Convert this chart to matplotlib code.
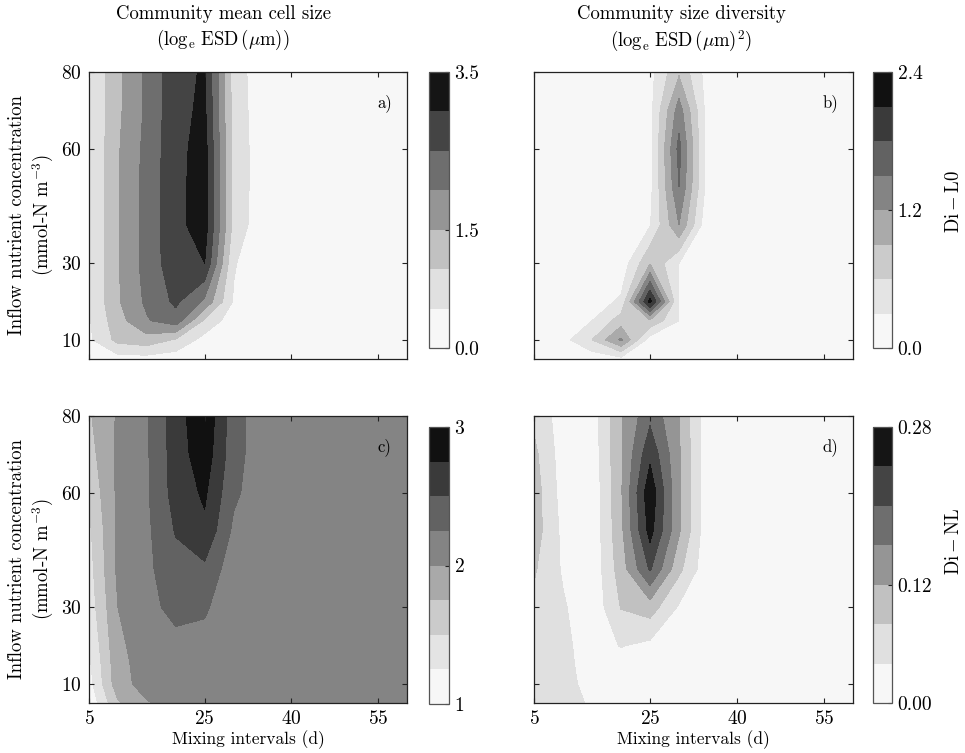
"""Mean cell size and size diversity across mixing interval and inflow nutrient."""
import matplotlib
matplotlib.use('Agg')

import matplotlib.pyplot as plt

plt.rcParams['font.family'] = 'serif'
plt.rcParams['font.serif'] = ['cmr10']
plt.rcParams['mathtext.fontset'] = 'cm'
plt.rcParams['axes.unicode_minus'] = False
plt.rcParams['axes.formatter.use_mathtext'] = True

# grid: mixing interval (d) along x, inflow nutrient (mmol-N m-3) along y
mixing = [5, 10, 15, 20, 25, 30, 35, 40, 45, 50, 55, 60]
nutrient = [5, 10, 15, 20, 30, 40, 50, 60, 70, 80]

# rows follow nutrient, columns follow mixing
size_l0 = [
    [0.10, 0.30, 0.30, 0.20, 0.10, 0.10, 0.10, 0.10, 0.10, 0.10, 0.10, 0.10],
    [0.40, 1.15, 1.30, 0.95, 0.30, 0.10, 0.10, 0.10, 0.10, 0.10, 0.10, 0.10],
    [0.45, 1.30, 1.95, 2.30, 0.90, 0.20, 0.10, 0.10, 0.10, 0.10, 0.10, 0.10],
    [0.48, 1.45, 2.10, 2.60, 1.90, 0.45, 0.10, 0.10, 0.10, 0.10, 0.10, 0.10],
    [0.48, 1.45, 2.20, 2.80, 3.00, 0.55, 0.10, 0.10, 0.10, 0.10, 0.10, 0.10],
    [0.48, 1.45, 2.20, 2.85, 3.25, 0.85, 0.15, 0.10, 0.10, 0.10, 0.10, 0.10],
    [0.48, 1.45, 2.20, 2.85, 3.25, 0.85, 0.20, 0.10, 0.10, 0.10, 0.10, 0.10],
    [0.47, 1.45, 2.15, 2.85, 3.20, 0.85, 0.20, 0.10, 0.10, 0.10, 0.10, 0.10],
    [0.45, 1.40, 2.10, 2.85, 3.10, 0.80, 0.20, 0.10, 0.10, 0.10, 0.10, 0.10],
    [0.43, 1.40, 2.10, 2.85, 3.05, 0.80, 0.15, 0.10, 0.10, 0.10, 0.10, 0.10],
]

div_l0 = [
    [0.05, 0.05, 0.10, 0.20, 0.05, 0.05, 0.05, 0.05, 0.05, 0.05, 0.05, 0.05],
    [0.05, 0.20, 0.60, 1.25, 0.15, 0.05, 0.05, 0.05, 0.05, 0.05, 0.05, 0.05],
    [0.05, 0.10, 0.30, 0.75, 0.85, 0.30, 0.05, 0.05, 0.05, 0.05, 0.05, 0.05],
    [0.05, 0.05, 0.15, 0.35, 2.20, 0.25, 0.05, 0.05, 0.05, 0.05, 0.05, 0.05],
    [0.05, 0.05, 0.05, 0.10, 0.88, 0.30, 0.05, 0.05, 0.05, 0.05, 0.05, 0.05],
    [0.05, 0.05, 0.05, 0.05, 0.28, 1.20, 0.03, 0.05, 0.05, 0.05, 0.05, 0.05],
    [0.05, 0.05, 0.05, 0.05, 0.20, 1.50, 0.15, 0.05, 0.05, 0.05, 0.05, 0.05],
    [0.05, 0.05, 0.05, 0.05, 0.20, 1.60, 0.15, 0.05, 0.05, 0.05, 0.05, 0.05],
    [0.05, 0.05, 0.05, 0.05, 0.20, 1.35, 0.15, 0.05, 0.05, 0.05, 0.05, 0.05],
    [0.05, 0.05, 0.05, 0.05, 0.20, 0.85, 0.15, 0.05, 0.05, 0.05, 0.05, 0.05],
]

size_nl = [
    [1.05, 1.72, 1.98, 2.10, 2.10, 2.10, 2.10, 2.10, 2.10, 2.10, 2.10, 2.10],
    [1.15, 1.90, 2.10, 2.12, 2.12, 2.10, 2.10, 2.10, 2.10, 2.10, 2.10, 2.10],
    [1.20, 1.92, 2.11, 2.13, 2.15, 2.10, 2.10, 2.10, 2.10, 2.10, 2.10, 2.10],
    [1.25, 1.95, 2.12, 2.15, 2.18, 2.10, 2.10, 2.10, 2.10, 2.10, 2.10, 2.10],
    [1.35, 2.00, 2.15, 2.35, 2.28, 2.10, 2.10, 2.10, 2.10, 2.10, 2.10, 2.10],
    [1.40, 2.05, 2.20, 2.40, 2.45, 2.10, 2.10, 2.10, 2.10, 2.10, 2.10, 2.10],
    [1.45, 2.05, 2.20, 2.52, 2.70, 2.20, 2.10, 2.10, 2.10, 2.10, 2.10, 2.10],
    [1.55, 2.05, 2.22, 2.60, 2.79, 2.30, 2.10, 2.10, 2.10, 2.10, 2.10, 2.10],
    [1.65, 2.05, 2.22, 2.62, 2.90, 2.35, 2.10, 2.10, 2.10, 2.10, 2.10, 2.10],
    [1.72, 2.03, 2.22, 2.63, 2.96, 2.35, 2.10, 2.10, 2.10, 2.10, 2.10, 2.10],
]

div_nl = [
    [0.060, 0.055, 0.035, 0.020, 0.020, 0.015, 0.010, 0.010, 0.010, 0.010, 0.010, 0.010],
    [0.060, 0.055, 0.025, 0.020, 0.020, 0.015, 0.010, 0.010, 0.010, 0.010, 0.010, 0.010],
    [0.060, 0.052, 0.022, 0.025, 0.020, 0.015, 0.010, 0.010, 0.010, 0.010, 0.010, 0.010],
    [0.065, 0.050, 0.020, 0.042, 0.030, 0.020, 0.010, 0.010, 0.010, 0.010, 0.010, 0.010],
    [0.070, 0.045, 0.010, 0.082, 0.100, 0.035, 0.010, 0.010, 0.010, 0.010, 0.010, 0.010],
    [0.085, 0.035, 0.010, 0.100, 0.205, 0.090, 0.010, 0.010, 0.010, 0.010, 0.010, 0.010],
    [0.100, 0.030, 0.010, 0.110, 0.255, 0.125, 0.010, 0.010, 0.010, 0.010, 0.010, 0.010],
    [0.100, 0.023, 0.010, 0.115, 0.270, 0.125, 0.010, 0.010, 0.010, 0.010, 0.010, 0.010],
    [0.090, 0.020, 0.015, 0.115, 0.230, 0.125, 0.010, 0.010, 0.010, 0.010, 0.010, 0.010],
    [0.070, 0.020, 0.020, 0.115, 0.190, 0.120, 0.010, 0.010, 0.010, 0.010, 0.010, 0.010],
]

panels = [
    ('a)', size_l0, [0.5 * i for i in range(8)], [0.0, 1.5, 3.5], ['0.0', '1.5', '3.5']),
    ('b)', div_l0, [0.3 * i for i in range(9)], [0.0, 1.2, 2.4], ['0.0', '1.2', '2.4']),
    ('c)', size_nl, [1 + 0.25 * i for i in range(9)], [1, 2, 3], ['1', '2', '3']),
    ('d)', div_nl, [0.04 * i for i in range(8)], [0.0, 0.12, 0.28], ['0.00', '0.12', '0.28']),
]

W, H = 965, 753


def box(x0, y0, x1, y1):
    return [x0 / W, 1 - y1 / H, (x1 - x0) / W, (y1 - y0) / H]


ax_boxes = [box(89, 72, 407, 359), box(534, 72, 853, 359),
            box(89, 416, 407, 703), box(534, 416, 853, 703)]
cb_boxes = [box(429, 72, 449, 348), box(873, 72, 892, 348),
            box(429, 427, 449, 704), box(873, 427, 892, 703)]

edge = '#222222'

fig = plt.figure(figsize=(W / 100, H / 100), dpi=100)

for i, (tag, z, levels, cticks, clabels) in enumerate(panels):
    ax = fig.add_axes(ax_boxes[i])
    cs = ax.contourf(mixing, nutrient, z, levels=levels, cmap='Greys')
    ax.set_xlim(5, 60)
    ax.set_ylim(5, 80)
    ax.set_xticks([5, 25, 40, 55])
    ax.set_yticks([10, 30, 60, 80])
    ax.tick_params(direction='in', top=True, right=True, length=3.5,
                   width=0.8, color=edge, labelsize=14, pad=5)
    for s in ax.spines.values():
        s.set_color(edge)
        s.set_linewidth(0.9)
    if i < 2:
        ax.tick_params(labelbottom=False)
    else:
        ax.set_xlabel('Mixing intervals (d)', fontsize=12.5, labelpad=2)
    if i % 2 == 1:
        ax.tick_params(labelleft=False)
    else:
        ax.set_ylabel('Inflow nutrient concentration\n(mmol-N m$^{-3}$)',
                      fontsize=13.5, labelpad=4, linespacing=1.25)
    ax.text(0.93, 0.89, tag, transform=ax.transAxes, ha='center',
            va='center', fontsize=12)

    cax = fig.add_axes(cb_boxes[i])
    cb = fig.colorbar(cs, cax=cax, ticks=cticks)
    cb.ax.set_yticklabels(clabels)
    cb.ax.tick_params(direction='in', length=3, width=0.8, color=edge,
                      labelsize=14, pad=4)
    cb.outline.set_edgecolor('#555555')
    cb.outline.set_linewidth(0.9)

# row labels beside the right colorbars
fig.text(954 / W, 1 - 201 / H, r'$\mathrm{Di-L0}$', rotation=90,
         ha='center', va='center', fontsize=13.5)
fig.text(954 / W, 1 - 541 / H, r'$\mathrm{Di-NL}$', rotation=90,
         ha='center', va='center', fontsize=13.5)

fig.text(223 / W, 1 - 5 / H,
         'Community mean cell size\n'
         r'$(\log_{\mathrm{e}}\,\mathrm{ESD}\,(\mu\mathrm{m}))$',
         ha='center', va='top', fontsize=13.5, linespacing=1.3)
fig.text(681 / W, 1 - 5 / H,
         'Community size diversity\n'
         r'$(\log_{\mathrm{e}}\,\mathrm{ESD}\,(\mu\mathrm{m})^2)$',
         ha='center', va='top', fontsize=13.5, linespacing=1.3)

fig.savefig('out.png', dpi=100)
plt.close(fig)
